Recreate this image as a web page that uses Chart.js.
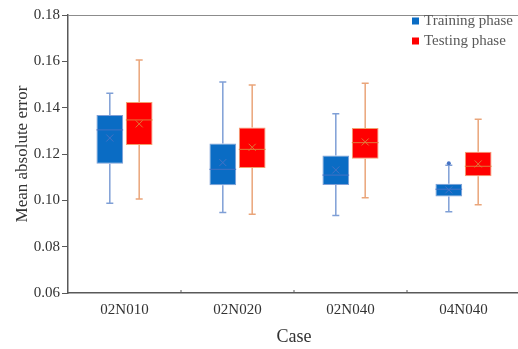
<!DOCTYPE html>
<html>
<head>
<meta charset="utf-8">
<script src="https://cdn.jsdelivr.net/npm/chart.js@4.4.1/dist/chart.umd.min.js"></script>
<style>
  html, body { margin: 0; padding: 0; background: #fff; overflow: hidden; }
  #wrap { width: 518px; height: 349px; overflow: hidden; }
</style>
</head>
<body>
<div id="wrap"><canvas id="boxChart" width="520" height="349"></canvas></div>
<script>
// cases on the x axis
var categories = ['02N010', '02N020', '02N040', '04N040'];

// training phase box stats
var trainMin    = [0.0987, 0.0948, 0.0934, 0.0951];
var trainQ1     = [0.1158, 0.1065, 0.1066, 0.1017];
var trainMedian = [0.1304, 0.1134, 0.1109, 0.1048];
var trainMean   = [0.1269, 0.1163, 0.1131, 0.1045];
var trainQ3     = [0.1368, 0.1245, 0.1194, 0.1072];
var trainMax    = [0.1462, 0.1511, 0.1374, 0.1151];
var trainOutliers = [[], [], [], [0.1160]];

// testing phase box stats
var testMin    = [0.1006, 0.0940, 0.1011, 0.0981];
var testQ1     = [0.1239, 0.1140, 0.1179, 0.1104];
var testMedian = [0.1347, 0.1220, 0.1249, 0.1147];
var testMean   = [0.1330, 0.1229, 0.1252, 0.1157];
var testQ3     = [0.1425, 0.1314, 0.1312, 0.1210];
var testMax    = [0.1606, 0.1498, 0.1505, 0.1350];
var testOutliers = [[], [], [], []];

var yTicks = [0.06, 0.08, 0.10, 0.12, 0.14, 0.16, 0.18];

var FONT = "'Liberation Serif', 'Times New Roman', serif";

function ranges(lo, hi) {
    return lo.map(function (v, i) { return [v, hi[i]]; });
}

// stats per dataset index, used by the plugin for whiskers / median / mean
var stats = [
    { min: trainMin, med: trainMedian, mean: trainMean, max: trainMax, out: trainOutliers,
      line: '#7f9fd6', mark: '#4472c4' },
    { min: testMin, med: testMedian, mean: testMean, max: testMax, out: testOutliers,
      line: '#eaa57a', mark: '#e07a3a' }
];

var boxExtras = {
    id: 'boxExtras',
    afterDatasetsDraw: function (chart) {
        var ctx = chart.ctx;
        var y = chart.scales.y;
        stats.forEach(function (s, di) {
            var meta = chart.getDatasetMeta(di);
            var q = chart.data.datasets[di].data;
            meta.data.forEach(function (bar, j) {
                var x = bar.x, w = bar.width;
                var cap = 3.5;
                ctx.save();
                // whiskers
                ctx.strokeStyle = s.line;
                ctx.lineWidth = 1.5;
                ctx.beginPath();
                ctx.moveTo(x, y.getPixelForValue(q[j][1]));
                ctx.lineTo(x, y.getPixelForValue(s.max[j]));
                ctx.moveTo(x - cap, y.getPixelForValue(s.max[j]));
                ctx.lineTo(x + cap, y.getPixelForValue(s.max[j]));
                ctx.moveTo(x, y.getPixelForValue(q[j][0]));
                ctx.lineTo(x, y.getPixelForValue(s.min[j]));
                ctx.moveTo(x - cap, y.getPixelForValue(s.min[j]));
                ctx.lineTo(x + cap, y.getPixelForValue(s.min[j]));
                ctx.stroke();
                // median
                ctx.strokeStyle = s.mark;
                ctx.lineWidth = 1;
                var my = y.getPixelForValue(s.med[j]);
                ctx.beginPath();
                ctx.moveTo(x - w / 2, my);
                ctx.lineTo(x + w / 2, my);
                ctx.stroke();
                // mean cross
                var ey = y.getPixelForValue(s.mean[j]);
                var r = 3.5;
                ctx.beginPath();
                ctx.moveTo(x - r, ey - r); ctx.lineTo(x + r, ey + r);
                ctx.moveTo(x - r, ey + r); ctx.lineTo(x + r, ey - r);
                ctx.stroke();
                // outliers
                ctx.fillStyle = s.mark;
                s.out[j].forEach(function (v) {
                    ctx.beginPath();
                    ctx.arc(x, y.getPixelForValue(v), 2, 0, Math.PI * 2);
                    ctx.fill();
                });
                ctx.restore();
            });
        });
    },
    afterDraw: function (chart) {
        var ctx = chart.ctx;
        var a = chart.chartArea;
        var xs = chart.scales.x;
        ctx.save();
        // top frame line
        ctx.strokeStyle = '#8c8c8c';
        ctx.lineWidth = 1;
        ctx.beginPath();
        ctx.moveTo(a.left, a.top + 0.5);
        ctx.lineTo(a.right, a.top + 0.5);
        ctx.stroke();
        // small inward ticks between categories
        ctx.strokeStyle = '#595959';
        ctx.beginPath();
        for (var i = 1; i < categories.length; i++) {
            var bx = (xs.getPixelForValue(i - 1) + xs.getPixelForValue(i)) / 2;
            ctx.moveTo(bx, a.bottom);
            ctx.lineTo(bx, a.bottom - 3);
        }
        ctx.stroke();
        // legend
        ctx.font = '15px ' + FONT;
        ctx.textBaseline = 'middle';
        ctx.textAlign = 'left';
        chart.data.datasets.forEach(function (ds, i) {
            var ly = 21 + i * 20;
            ctx.fillStyle = ds.backgroundColor;
            ctx.fillRect(412, ly - 3.5, 7, 7);
            ctx.fillStyle = '#595959';
            ctx.fillText(ds.label, 424, ly);
        });
        ctx.restore();
    }
};

window.addEventListener('load', function () {
    var canvas = document.getElementById('boxChart');
    if (!canvas) return;
    var ctx = canvas.getContext('2d');

    new Chart(ctx, {
        type: 'bar',
        data: {
            labels: categories,
            datasets: [
                {
                    label: 'Training phase',
                    data: ranges(trainQ1, trainQ3),
                    backgroundColor: '#0a6cc4',
                    borderColor: '#7f9fd6',
                    borderWidth: 1,
                    borderSkipped: false,
                    categoryPercentage: 0.52,
                    barPercentage: 0.91
                },
                {
                    label: 'Testing phase',
                    data: ranges(testQ1, testQ3),
                    backgroundColor: '#ff0000',
                    borderColor: '#f2a070',
                    borderWidth: 1,
                    borderSkipped: false,
                    categoryPercentage: 0.52,
                    barPercentage: 0.91
                }
            ]
        },
        options: {
            responsive: false,
            animation: false,
            devicePixelRatio: 1,
            layout: { padding: { top: 15, left: 0, right: 0, bottom: 0 } },
            plugins: {
                legend: { display: false },
                tooltip: { enabled: false }
            },
            scales: {
                x: {
                    grid: { display: true, drawOnChartArea: false, drawTicks: false, offset: true },
                    border: { display: true, color: '#595959', width: 1.5 },
                    ticks: { color: '#333', padding: 8, font: { family: FONT, size: 15 } },
                    title: {
                        display: true, text: 'Case', color: '#333',
                        font: { family: FONT, size: 18 }, padding: { top: 0, bottom: 1 }
                    },
                    afterFit: function (scale) { scale.height = 56; }
                },
                y: {
                    min: 0.06,
                    max: 0.18,
                    afterBuildTicks: function (scale) {
                        scale.ticks = yTicks.map(function (v) { return { value: v }; });
                    },
                    grid: { drawOnChartArea: false, tickLength: 6, color: '#595959' },
                    border: { display: true, color: '#595959', width: 1.5 },
                    ticks: {
                        color: '#333', padding: 2, font: { family: FONT, size: 15 },
                        callback: function (v) { return Number(v).toFixed(2); }
                    },
                    title: {
                        display: true, text: 'Mean absolute error', color: '#333',
                        font: { family: FONT, size: 17 }, padding: { top: 12, bottom: 0 }
                    },
                    afterFit: function (scale) { scale.width = 68; }
                }
            }
        },
        plugins: [boxExtras]
    });
});
</script>
</body>
</html>
